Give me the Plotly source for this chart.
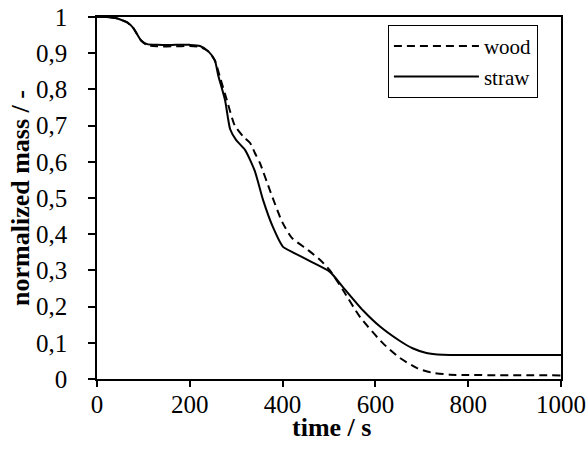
import plotly.graph_objects as go

# time (s) and normalized mass for straw
straw_t = [0, 20, 40, 50, 65, 78, 95, 108, 130, 170, 200, 222, 240, 254, 261, 276, 287, 300, 319, 340, 358, 379, 401, 422, 460, 502, 530, 573, 610, 653, 680, 710, 745, 800, 1000]
straw_m = [1.0, 1.0, 0.997, 0.993, 0.985, 0.97, 0.935, 0.925, 0.923, 0.923, 0.923, 0.92, 0.905, 0.88, 0.84, 0.77, 0.69, 0.66, 0.633, 0.575, 0.494, 0.42, 0.365, 0.35, 0.325, 0.296, 0.254, 0.19, 0.145, 0.105, 0.085, 0.072, 0.067, 0.066, 0.066]

# time (s) and normalized mass for wood
wood_t = [0, 20, 40, 50, 65, 78, 95, 108, 130, 170, 200, 222, 240, 254, 265, 280, 297, 315, 330, 340, 351, 373, 399, 420, 455, 481, 502, 530, 567, 616, 653, 690, 720, 760, 800, 1000]
wood_m = [1.0, 1.0, 0.997, 0.993, 0.985, 0.97, 0.935, 0.922, 0.919, 0.919, 0.92, 0.917, 0.905, 0.88, 0.834, 0.77, 0.7, 0.67, 0.652, 0.625, 0.597, 0.52, 0.434, 0.39, 0.356, 0.329, 0.30, 0.246, 0.171, 0.099, 0.058, 0.03, 0.018, 0.012, 0.011, 0.01]

x_ticks = [0, 200, 400, 600, 800, 1000]
y_ticks = [0, 0.1, 0.2, 0.3, 0.4, 0.5, 0.6, 0.7, 0.8, 0.9, 1.0]

x_title = "<b>time / s</b>"
y_title = "<b>normalized mass / -</b>"

FONT = "Liberation Serif"

fig = go.Figure()
fig.add_trace(go.Scatter(x=wood_t, y=wood_m, mode="lines", name="wood",
                         line=dict(color="black", width=2, dash="8px,5px", shape="spline", smoothing=0.6)))
fig.add_trace(go.Scatter(x=straw_t, y=straw_m, mode="lines", name="straw",
                         line=dict(color="black", width=2, shape="spline", smoothing=0.6)))

fig.update_layout(
    width=588, height=452,
    margin=dict(l=97, r=27, t=17, b=73, autoexpand=False),
    paper_bgcolor="white", plot_bgcolor="white",
    separators=", ",
    font=dict(family=FONT, size=25, color="black"),
    showlegend=True,
    legend=dict(x=0.627, y=0.978, xanchor="left", yanchor="top",
                bordercolor="black", borderwidth=1, bgcolor="white",
                font=dict(family=FONT, size=21), itemwidth=85,
                tracegroupgap=0),
    xaxis=dict(range=[0, 1000], tickvals=x_ticks, showgrid=False, zeroline=False,
               automargin=False, ticklabeloverflow="allow",
               showline=True, linecolor="black", linewidth=1.5, mirror=True,
               ticks="outside", ticklen=6, tickcolor="black", tickwidth=1.5,
               ticklabelstandoff=-4),
    yaxis=dict(range=[0, 1], tickvals=y_ticks, showgrid=False, zeroline=False,
               automargin=False, ticklabeloverflow="allow",
               showline=True, linecolor="black", linewidth=1.5, mirror=True,
               ticks="outside", ticklen=7, tickcolor="black", tickwidth=1.5,
               ticklabelstandoff=16),
    annotations=[
        dict(text=x_title, xref="paper", yref="paper", x=0.505, y=-0.1326,
             xanchor="center", yanchor="middle", showarrow=False,
             font=dict(family=FONT, size=26)),
        dict(text=y_title, xref="paper", yref="paper", x=-0.166, y=0.5,
             xanchor="center", yanchor="middle", showarrow=False, textangle=-90,
             font=dict(family=FONT, size=26)),
    ],
)

# remove the default page margin so the figure sits at the window's top-left corner
fig.write_html("out.html", config={"displayModeBar": False},
               post_script="document.body.style.margin='0';")
